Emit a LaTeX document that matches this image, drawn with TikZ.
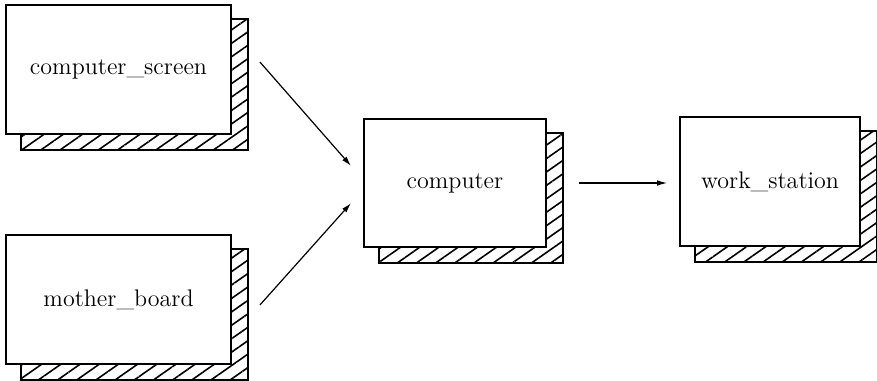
\documentclass[tikz,border=0pt]{standalone}
\usetikzlibrary{arrows.meta,calc,backgrounds,patterns.meta}
\tikzset{
  obox/.style  ={draw=black, line width=0.9pt, fill=white, align=center,
                 font=\large, inner sep=0pt},
  hatch/.style ={draw=black, line width=0.9pt,
                 pattern={Lines[angle=35,distance=5.5pt,line width=0.8pt]}},
  ar/.style    ={-{Latex[length=5pt,width=2.8pt]}, draw=black, line width=0.6pt},
}
\begin{document}
\begin{tikzpicture}[x=0.5pt,y=-0.5pt]
\useasboundingbox (0,0) rectangle (877,380);
\node[obox, minimum width=112.5pt, minimum height=64.5pt] (cs) at (118.5,69.5) {computer\_screen};
\node[obox, minimum width=112.5pt, minimum height=64.5pt] (mb) at (118.5,299.5) {mother\_board};
\node[obox, minimum width=91pt, minimum height=64pt] (c) at (455,183) {computer};
\node[obox, minimum width=90pt, minimum height=64.5pt] (ws) at (770,181.5) {work\_station};
% hatched shadows behind every box
\begin{scope}[on background layer]
\foreach \n in {cs,mb,c,ws}
  \draw[hatch] ($(\n.south west)+(8pt,-7.5pt)$) rectangle ($(\n.north east)+(8pt,-7.5pt)$);
\end{scope}
\draw[ar] ([shift={(14pt,3.75pt)}]cs.east) -- ([shift={(-6pt,8.5pt)}]c.west);
\draw[ar] ([shift={(14pt,-2.75pt)}]mb.east) -- ([shift={(-6pt,-10pt)}]c.west);
\draw[ar, shorten <=16pt, shorten >=6pt] (c.east) -- (c.east -| ws.west);
\end{tikzpicture}
\end{document}
